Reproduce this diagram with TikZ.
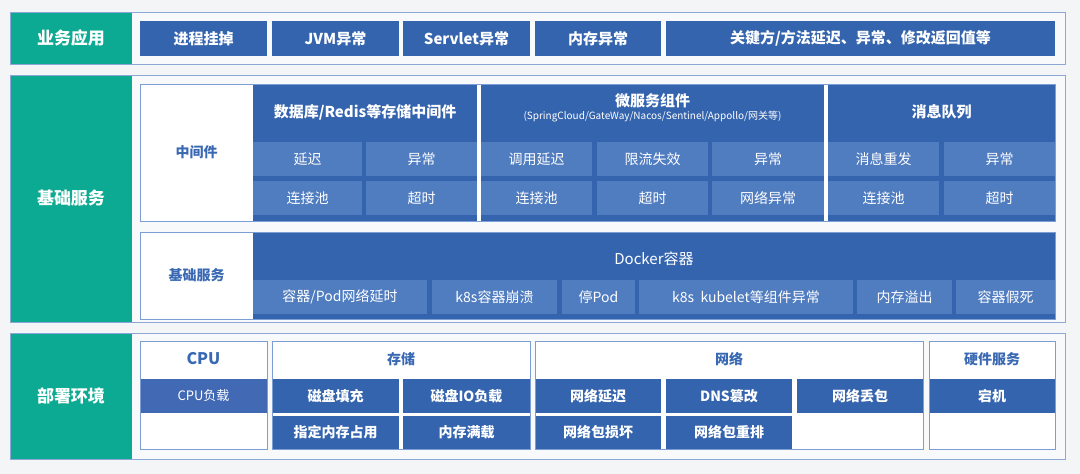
\documentclass[tikz,border=0pt]{standalone}
\usepackage{fontspec}
\setmainfont{Noto Sans CJK SC}
\usepackage{xcolor}
\usepackage{tikz}
\definecolor{pagegrey}{RGB}{243,245,247}
\definecolor{panelfill}{RGB}{247,249,250}
\definecolor{panelline}{RGB}{140,167,214}
\definecolor{boxline}{RGB}{125,157,213}
\definecolor{layergreen}{RGB}{12,170,146}
\definecolor{darkblue}{RGB}{52,100,174}
\definecolor{cellblue}{RGB}{80,124,192}
\definecolor{cpublue}{RGB}{66,106,180}
\definecolor{labelblue}{RGB}{58,105,180}

\begin{document}
\begin{tikzpicture}[
    x=1pt, y=-1pt,
    every node/.style={inner sep=0pt, outer sep=0pt},
    wh/.style 2 args={minimum width=#1pt, minimum height=#2pt},
    panel/.style={rectangle, draw=panelline, line width=1pt, fill=panelfill},
    layer/.style={rectangle, fill=layergreen, text=white, font=\fontsize{17}{20}\selectfont\bfseries},
    item/.style={rectangle, fill=darkblue, text=white, font=\fontsize{15}{18}\selectfont\bfseries},
    group/.style={rectangle, draw=boxline, line width=0.8pt, fill=white},
    section/.style={rectangle, fill=darkblue},
    head/.style={text=white, font=\fontsize{15}{18}\selectfont\bfseries},
    cell/.style={rectangle, fill=cellblue, text=white, font=\fontsize{14}{17}\selectfont},
    tag/.style={text=labelblue, font=\fontsize{14}{17}\selectfont\bfseries},
    hwcell/.style={rectangle, fill=darkblue, text=white, font=\fontsize{14}{17}\selectfont\bfseries}
]
\fill[pagegrey] (0,0) rectangle (1080,474);
\useasboundingbox (0,0) rectangle (1080,474);

% Business layer
\node[panel, wh={1055}{52}] (bizpanel) at (537.5,38) {};
\node[layer, wh={121}{51}] (bizlabel) at (71,38) {业务应用};
\node[item, wh={127}{35}] (crash) at (203.5,38.5) {进程挂掉};
\node[item, wh={127}{35}] (jvm) at (335.5,38.5) {JVM异常};
\node[item, wh={127}{35}] (servlet) at (466.5,38.5) {Servlet异常};
\node[item, wh={126}{35}] (memory) at (598,38.5) {内存异常};
\node[item, wh={389}{35}] (method) at (860.5,38.5) {关键方/方法延迟、异常、修改返回值等};

% Base service layer
\node[panel, wh={1055}{247}] (basepanel) at (537.5,198.5) {};
\node[layer, wh={121}{246}] (baselabel) at (71,198.5) {基础服务};

% Middleware
\node[group, wh={915}{137}] (mw) at (597.5,152.5) {};
\node[tag] (mwtag) at (196.5,152.5) {中间件};
\node[section, wh={224}{137}] (db) at (365,152.5) {};
\node[section, wh={343}{137}] (micro) at (652.5,152.5) {};
\node[section, wh={227}{137}] (mq) at (941.5,152.5) {};
\node[head] (dbhead) at (365,112) {数据库/Redis等存储中间件};
\node[head] (microhead) at (652.5,101) {微服务组件};
\node[text=white, font=\fontsize{10}{12}\selectfont] (microsub) at (652.5,117) {(SpringCloud/GateWay/Nacos/Sentinel/Appollo/网关等)};
\node[head] (mqhead) at (941.5,112) {消息队列};
\node[cell, wh={109}{34}] (dbdelay) at (307.5,159) {延迟};
\node[cell, wh={111}{34}] (dberror) at (421.5,159) {异常};
\node[cell, wh={109}{34}] (dbpool) at (307.5,198) {连接池};
\node[cell, wh={111}{34}] (dbtimeout) at (421.5,198) {超时};
\node[cell, wh={111}{34}] (calldelay) at (536.5,159) {调用延迟};
\node[cell, wh={111}{34}] (ratelimit) at (652.5,159) {限流失效};
\node[cell, wh={112}{34}] (microerror) at (768,159) {异常};
\node[cell, wh={111}{34}] (micropool) at (536.5,198) {连接池};
\node[cell, wh={111}{34}] (microtimeout) at (652.5,198) {超时};
\node[cell, wh={112}{34}] (neterror) at (768,198) {网络异常};
\node[cell, wh={111}{34}] (resend) at (883.5,159) {消息重发};
\node[cell, wh={111}{34}] (mqerror) at (999.5,159) {异常};
\node[cell, wh={111}{34}] (mqpool) at (883.5,198) {连接池};
\node[cell, wh={111}{34}] (mqtimeout) at (999.5,198) {超时};
\draw[boxline, line width=0.8pt] (mw.north west) rectangle (mw.south east);

% Container services
\node[group, wh={915}{87}] (infra) at (597.5,275.5) {};
\node[tag] (infratag) at (196.5,275.5) {基础服务};
\node[section, wh={802}{87}] (docker) at (654,275.5) {};
\node[text=white, font=\fontsize{15}{18}\selectfont] (dockerhead) at (654,259) {Docker容器};
\node[cell, wh={174}{34}] (poddelay) at (340,297) {容器/Pod网络延时};
\node[cell, wh={125}{34}] (k8scrash) at (494.5,297) {k8s容器崩溃};
\node[cell, wh={73}{34}] (stoppod) at (598.5,297) {停Pod};
\node[cell, wh={214}{34}] (kubelet) at (746,297) {k8s\ \ kubelet等组件异常};
\node[cell, wh={95}{34}] (oom) at (904.5,297) {内存溢出};
\node[cell, wh={99}{34}] (hang) at (1005.5,297) {容器假死};
\draw[boxline, line width=0.8pt] (infra.north west) rectangle (infra.south east);

% Deployment layer
\node[panel, wh={1055}{126}] (deploypanel) at (537.5,396) {};
\node[layer, wh={121}{125}] (deploylabel) at (71,396) {部署环境};

% CPU
\node[group, wh={127}{108}] (cpu) at (203.5,395) {};
\node[text=labelblue, font=\fontsize{16}{19}\selectfont\bfseries] (cputag) at (203.5,359) {CPU};
\node[rectangle, fill=cpublue, text=white, font=\fontsize{13}{16}\selectfont, wh={127}{34}] (cpuload) at (203.5,396) {CPU负载};
\draw[boxline, line width=0.8pt] (cpu.north west) rectangle (cpu.south east);

% Storage
\node[group, wh={258}{108}] (disk) at (401,395) {};
\node[tag] (disktag) at (401,359) {存储};
\node[hwcell, wh={127}{34}] (diskfill) at (335.5,396) {磁盘填充};
\node[hwcell, wh={127}{34}] (diskio) at (466.5,396) {磁盘IO负载};
\node[hwcell, wh={127}{33}] (memfill) at (335.5,432.5) {指定内存占用};
\node[hwcell, wh={127}{33}] (memfull) at (466.5,432.5) {内存满载};
\draw[boxline, line width=0.8pt] (disk.north west) rectangle (disk.south east);

% Network
\node[group, wh={388}{108}] (net) at (729,395) {};
\node[tag] (nettag) at (729,359) {网络};
\node[hwcell, wh={126}{34}] (netdelay) at (598,396) {网络延迟};
\node[hwcell, wh={126}{34}] (dns) at (729,396) {DNS篡改};
\node[hwcell, wh={126}{34}] (netloss) at (860,396) {网络丢包};
\node[hwcell, wh={126}{33}] (netcorrupt) at (598,432.5) {网络包损坏};
\node[hwcell, wh={126}{33}] (netreorder) at (729,432.5) {网络包重排};
\draw[boxline, line width=0.8pt] (net.north west) rectangle (net.south east);

% Hardware
\node[group, wh={126}{108}] (hw) at (992,395) {};
\node[tag] (hwtag) at (992,359) {硬件服务};
\node[hwcell, wh={126}{34}] (down) at (992,396) {宕机};
\draw[boxline, line width=0.8pt] (hw.north west) rectangle (hw.south east);
\end{tikzpicture}
\end{document}
